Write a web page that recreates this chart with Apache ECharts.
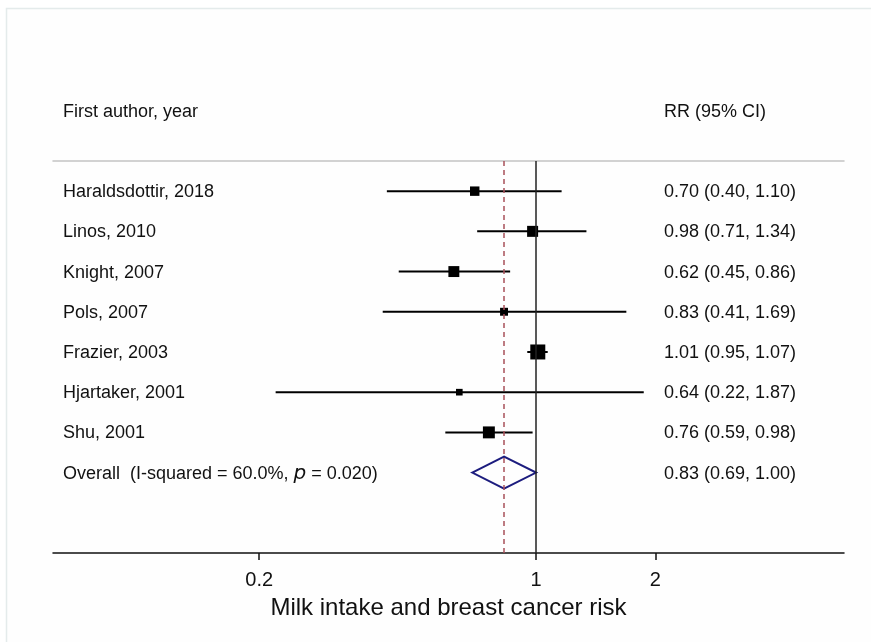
<!DOCTYPE html>
<html><head><meta charset="utf-8">
<script src="https://cdn.jsdelivr.net/npm/echarts@6/dist/echarts.min.js"></script>
<style>html,body{margin:0;padding:0;background:#fff}#c{width:871px;height:642px}</style>
</head><body><div id="c"></div>
<script>
// ---- data ----
const studies = ['Haraldsdottir, 2018','Linos, 2010','Knight, 2007','Pols, 2007','Frazier, 2003','Hjartaker, 2001','Shu, 2001'];
const rr      = [0.70, 0.98, 0.62, 0.83, 1.01, 0.64, 0.76];
const ciLow   = [0.42, 0.71, 0.45, 0.41, 0.95, 0.22, 0.59];
const ciHigh  = [1.16, 1.34, 0.86, 1.69, 1.07, 1.87, 0.98];
const ciText  = ['0.70 (0.40, 1.10)','0.98 (0.71, 1.34)','0.62 (0.45, 0.86)','0.83 (0.41, 1.69)','1.01 (0.95, 1.07)','0.64 (0.22, 1.87)','0.76 (0.59, 0.98)'];
const weights = [11.3, 15.4, 15.2, 8.0, 28.6, 5.6, 18.1];
const overallRR = 0.83, overallLow = 0.69, overallHigh = 1.00;
const overallText = '0.83 (0.69, 1.00)';
const xTicks = [0.2, 1, 2];
const xTitle = 'Milk intake and breast cancer risk';

// ---- chart ----
const FONT = 'Liberation Sans, Arial, sans-serif';
const TXT = '#111111';
const nRows = studies.length;
const overallRow = nRows;
const maxW = Math.max(...weights);
const chart = echarts.init(document.getElementById('c'), null, {renderer:'canvas'});

const studyData = studies.map((s, i) => [i, rr[i], ciLow[i], ciHigh[i], weights[i]]);
const leftTexts = studies.map(s => ({text: s}));
leftTexts.push({text: 'Overall  (I-squared = 60.0%, {p|p} = 0.020)'});
const rightTexts = ciText.concat([overallText]);

chart.setOption({
  animation: false,
  backgroundColor: '#ffffff',
  textStyle: {fontFamily: FONT},
  grid: {left: 53, right: 27, top: 161, bottom: 89},
  xAxis: [{
    type: 'log', min: 0.0603, max: 5.99,
    axisLine: {show: true, onZero: false, lineStyle: {color: '#111', width: 1.5}},
    axisTick: {show: true, length: 7, customValues: xTicks, lineStyle: {color: '#111', width: 1.5}},
    axisLabel: {customValues: xTicks, fontSize: 20, color: TXT, margin: 17, fontFamily: FONT,
      formatter: v => String(+v.toPrecision(3))},
    splitLine: {show: false}, minorTick: {show: false},
    name: xTitle, nameLocation: 'middle', nameGap: 43,
    nameTextStyle: {fontSize: 24, color: TXT, fontFamily: FONT}
  }, {
    type: 'log', min: 0.0603, max: 5.99, position: 'top',
    axisLine: {show: true, onZero: false, lineStyle: {color: '#c4c4c4', width: 1.5}},
    axisTick: {show: false}, axisLabel: {show: false}, splitLine: {show: false}
  }],
  yAxis: {type: 'value', inverse: true, min: -0.75, max: 9, show: false},
  graphic: [
    {type: 'rect', shape: {x: 6.5, y: 8.5, width: 900, height: 700},
     style: {fill: '#fefefe', stroke: '#e4ebeb', lineWidth: 1.5}, z: -10, silent: true},
    {type: 'text', left: 63, top: 103, style: {text: 'First author, year', font: '18px ' + FONT, fill: TXT}},
    {type: 'text', left: 664, top: 103, style: {text: 'RR (95% CI)', font: '18px ' + FONT, fill: TXT}}
  ],
  series: [
    {
      type: 'custom', name: 'studies', data: studyData,
      encode: {x: [1, 2, 3], y: 0}, z: 3,
      renderItem: (params, api) => {
        const i = api.value(0);
        const p = api.coord([api.value(1), i]);
        const l = api.coord([api.value(2), i]);
        const h = api.coord([api.value(3), i]);
        const s = 15 * Math.sqrt(api.value(4) / maxW);
        return {type: 'group', children: [
          {type: 'line', shape: {x1: l[0], y1: l[1], x2: h[0], y2: h[1]}, style: {stroke: '#000', lineWidth: 2}},
          {type: 'rect', shape: {x: p[0] - s / 2, y: p[1] - s / 2, width: s, height: s}, style: {fill: '#000'}}
        ]};
      },
      markLine: {
        silent: true, symbol: 'none', label: {show: false}, animation: false,
        data: [
          {xAxis: 1, lineStyle: {color: '#222', width: 1.5, type: 'solid'}},
          {xAxis: overallRR, lineStyle: {color: '#a8505a', width: 1.5, type: [5, 4]}}
        ]
      }
    },
    {
      type: 'custom', name: 'overall', data: [[overallRow, overallRR, overallLow, overallHigh]],
      encode: {x: [1, 2, 3], y: 0}, z: 4,
      renderItem: (params, api) => {
        const r = api.value(0);
        const e = api.value(1), lo = api.value(2), hi = api.value(3);
        const pts = [api.coord([lo, r]), api.coord([e, r - 0.4]), api.coord([hi, r]), api.coord([e, r + 0.4])];
        return {type: 'polygon', shape: {points: pts}, style: {fill: 'rgba(255,255,255,0)', stroke: '#1c1c7e', lineWidth: 2}};
      }
    },
    {
      type: 'custom', name: 'labels', data: leftTexts.map((t, i) => [i, 1]),
      encode: {x: 1, y: 0}, z: 5,
      renderItem: (params, api) => {
        const i = api.value(0);
        const y = api.coord([1, i])[1];
        const cs = params.coordSys;
        const t = leftTexts[i];
        return {type: 'group', children: [
          {type: 'text', style: {x: cs.x + 10, y: y + 1, text: t.text, fill: TXT, font: '18px ' + FONT,
            align: 'left', verticalAlign: 'middle',
            rich: {p: {fontStyle: 'italic', fontSize: 20, fontFamily: 'DejaVu Sans', fill: TXT}}}},
          {type: 'text', style: {x: cs.x + 611, y: y + 1, text: rightTexts[i], fill: TXT, font: '18px ' + FONT,
            align: 'left', verticalAlign: 'middle'}}
        ]};
      }
    }
  ]
});
</script></body></html>
